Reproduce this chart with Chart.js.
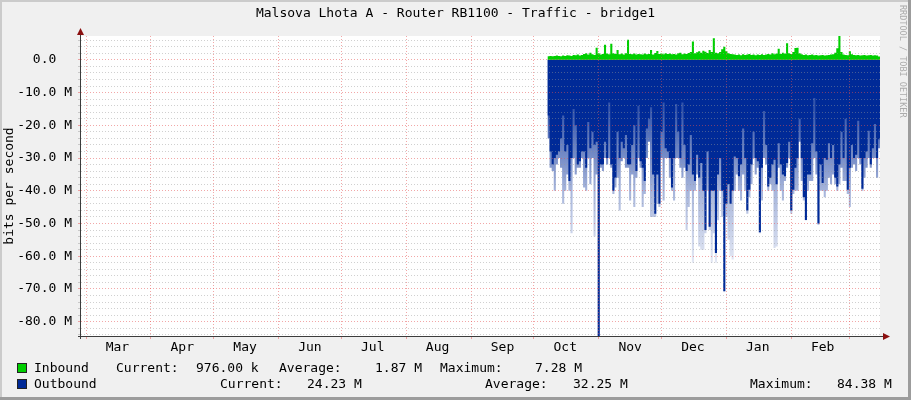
<!DOCTYPE html>
<html>
<head>
<meta charset="utf-8">
<script src="https://cdn.jsdelivr.net/npm/chart.js@4.4.1/dist/chart.umd.min.js"></script>
<style>
  html, body { margin: 0; padding: 0; background: #f0f0f0; }
  #wrap { width: 911px; height: 400px; }
</style>
</head>
<body>
<div id="wrap"><canvas id="traffic" width="911" height="400"></canvas></div>
<script>
const TITLE = 'Malsova Lhota A - Router RB1100 - Traffic - bridge1';
const Y_TITLE = 'bits per second';
const WATERMARK = 'RRDTOOL / TOBI OETIKER';

// x axis in days since 1 Mar
const MONTH_LABELS = ['Mar', 'Apr', 'May', 'Jun', 'Jul', 'Aug', 'Sep', 'Oct', 'Nov', 'Dec', 'Jan', 'Feb'];
const MONTH_STARTS = [0, 31, 61, 92, 122, 153, 184, 214, 245, 275, 306, 337, 365];
const X_MIN = -2.4;
const X_MAX = 379.4;

// y axis in M (bits per second)
const Y_MIN = -84.38;
const Y_MAX = 7.28;
const Y_MAJOR = [0, -10, -20, -30, -40, -50, -60, -70, -80];
const Y_MAJOR_LABELS = ['0.0  ', '-10.0 M', '-20.0 M', '-30.0 M', '-40.0 M', '-50.0 M', '-60.0 M', '-70.0 M', '-80.0 M'];

// one sample per day, first sample on day 220.5 (early Oct)
const DATA_START = 220.5;

const inbound = [
  1.1, 1.2, 1.1, 1.2, 1.3, 1.2, 1.1, 1.3, 1.2, 1.4,
  1.3, 1.2, 1.5, 1.4, 1.6, 1.3, 1.5, 1.8, 2.0, 1.6,
  2.2, 1.7, 1.5, 3.7, 2.0, 1.6, 1.8, 4.6, 1.9, 1.7,
  4.9, 2.0, 1.8, 3.0, 1.7, 1.9, 1.6, 2.0, 6.1, 1.8,
  1.7, 1.9, 1.6, 1.8, 1.7, 1.6, 1.9, 1.7, 1.8, 3.0,
  1.6, 2.1, 2.7, 1.8, 1.9, 1.7, 2.0, 1.8, 1.9, 1.7,
  1.8, 1.6, 2.0, 2.2, 1.7, 1.9, 1.8, 2.1, 2.4, 5.6,
  2.0, 2.3, 2.6, 2.2, 2.8, 2.5, 2.1, 3.0, 2.4, 6.6,
  2.2, 2.0, 2.4, 3.2, 4.0, 2.6, 2.0, 1.8, 1.7, 1.6,
  1.5, 1.6, 1.4, 1.7, 1.5, 1.6, 1.8, 1.5, 1.6, 1.4,
  1.6, 1.5, 1.7, 1.5, 1.6, 1.8, 1.6, 2.0, 1.7, 1.9,
  3.4, 1.8, 2.2, 1.9, 5.1, 2.0, 1.8, 2.4, 3.6, 3.7,
  2.0, 1.7, 1.5, 1.6, 1.4, 1.5, 1.6, 1.4, 1.5, 1.3,
  1.4, 1.5, 1.3, 1.4, 1.5, 1.6, 1.7, 2.2, 3.5, 7.28,
  2.4, 1.6, 1.5, 1.4, 2.6, 1.7, 1.5, 1.4, 1.5, 1.3,
  1.4, 1.5, 1.3, 1.4, 1.5, 1.3, 1.4, 1.3, 0.98
];

// outbound, typical daily level (drawn below zero)
const outboundCore = [
  17, 28, 32, 30, 29, 28, 24, 17, 28, 26,
  37, 30, 15, 20, 32, 31, 28, 28, 33, 19,
  27, 22, 26, 25, 84.38, 32, 32, 25, 30, 13,
  32, 40, 36, 22, 30, 25, 27, 23, 32, 32,
  26, 20, 34, 14, 31, 33, 37, 21, 18, 14.5,
  35, 47, 35, 44, 22, 13, 27, 28, 30, 39,
  30, 13.5, 22, 30, 13, 26, 34, 32, 23, 35,
  37, 29, 36, 31.5, 40, 52, 28, 51, 40, 40,
  59, 35, 30, 40, 70.7, 44, 38, 44, 40, 29.5,
  30, 35.6, 32, 21, 30, 46, 39.7, 32, 22, 30,
  31, 52.7, 33, 15.6, 26, 38.7, 36, 32, 30.5, 38,
  25.5, 32, 35, 35.6, 31.5, 25, 46, 39.7, 33, 30,
  18, 30, 42, 48.9, 35, 35, 25.5, 11.7, 28, 50,
  32, 37.6, 30, 30.5, 25.5, 30, 26, 36, 38.7, 32,
  22, 30, 18, 39.7, 33, 26, 30, 29, 18.6, 30,
  39.4, 30, 28, 21.7, 32, 27, 19.6, 30, 24.23
];

// outbound, short peaks within each day (light shade)
const outboundPeak = [
  24, 33, 34, 40, 32, 30, 33, 44, 40, 35,
  40, 53, 30, 35, 33, 33, 30, 39, 40, 30,
  38, 30, 54, 35, 84.38, 33, 34, 30, 32, 30,
  33, 41, 39, 36, 46, 31, 30, 33, 33, 43,
  35, 45, 36, 30, 33, 45, 41, 30, 25, 48,
  48, 48, 44, 45, 30, 43, 30, 30, 36, 40,
  43, 30, 30, 33, 36, 33, 52, 45, 40, 62,
  40, 35, 57, 58, 58, 53, 40, 52, 62, 53,
  62, 49, 40, 48, 71, 48, 55, 60, 61, 40,
  35, 40, 43, 35, 40, 47, 42, 38, 30, 35,
  33, 53, 43, 30, 32, 40, 38, 40, 57.5, 57,
  33, 40, 43, 37, 33, 30, 47, 41, 40, 40,
  25, 37, 43, 49, 40, 37, 37, 30, 35, 50.5,
  40, 40, 42, 40, 36, 38, 35, 38, 40, 38,
  33, 37, 37, 41, 45, 33, 32, 34, 30, 32,
  40, 36, 33, 30, 33, 30, 30, 36, 27
];

const LEGEND_IN = ['Inbound', 'Current:', '976.00 k', 'Average:', '1.87 M', 'Maximum:', '7.28 M'];
const LEGEND_OUT = ['Outbound', 'Current:', '24.23 M', 'Average:', '32.25 M', 'Maximum:', '84.38 M'];

const GREEN = '#00CF00';
const BLUE = '#002A97';
const FONT = "'DejaVu Sans Mono', monospace";
const MGRID = 'rgba(230, 80, 80, 0.5)';
const GRID = 'rgba(150, 150, 150, 0.45)';

// layout of the legend columns (pixels)
const LEGEND_IN_X = [34, 116, 196, 279, 375, 440, 535];
const LEGEND_OUT_X = [34, 220, 307, 485, 573, 750, 837];

function toPoints(values, sign) {
  const pts = values.map((v, i) => ({ x: DATA_START + i, y: sign * v }));
  // close the last step so the final sample gets its width
  pts.push({ x: DATA_START + values.length, y: sign * values[values.length - 1] });
  return pts;
}

// fading shade for the short outbound peaks
function peakFill(context) {
  const chart = context.chart;
  if (!chart.chartArea) return 'rgba(0, 42, 151, 0.35)';
  const y = chart.scales.y;
  const g = chart.ctx.createLinearGradient(0, y.getPixelForValue(-15), 0, y.getPixelForValue(-65));
  g.addColorStop(0, 'rgba(0, 42, 151, 0.8)');
  g.addColorStop(0.5, 'rgba(0, 42, 151, 0.35)');
  g.addColorStop(1, 'rgba(0, 42, 151, 0.08)');
  return g;
}

const rrdFrame = {
  id: 'rrdFrame',
  beforeDraw(chart) {
    const { ctx, chartArea: a, width, height } = chart;
    ctx.save();
    ctx.fillStyle = '#f0f0f0';
    ctx.fillRect(0, 0, width, height);
    ctx.fillStyle = '#ffffff';
    ctx.fillRect(a.left, a.top, a.right - a.left, a.bottom - a.top);
    ctx.restore();
  },
  afterDraw(chart) {
    const { ctx, chartArea: a, width, height } = chart;
    ctx.save();

    // axes
    ctx.strokeStyle = '#3c3c3c';
    ctx.lineWidth = 1;
    ctx.beginPath();
    ctx.moveTo(a.left - 0.5, a.top - 3);
    ctx.lineTo(a.left - 0.5, a.bottom + 3);
    ctx.moveTo(a.left - 3, a.bottom + 0.5);
    ctx.lineTo(a.right + 4, a.bottom + 0.5);
    ctx.stroke();

    // arrows
    ctx.fillStyle = '#8b1010';
    ctx.beginPath();
    ctx.moveTo(a.left - 0.5, a.top - 8);
    ctx.lineTo(a.left - 4, a.top - 1);
    ctx.lineTo(a.left + 3, a.top - 1);
    ctx.closePath();
    ctx.fill();
    ctx.beginPath();
    ctx.moveTo(a.right + 10, a.bottom + 0.5);
    ctx.lineTo(a.right + 3, a.bottom - 3);
    ctx.lineTo(a.right + 3, a.bottom + 4);
    ctx.closePath();
    ctx.fill();

    // title
    ctx.fillStyle = '#000';
    ctx.font = '13px ' + FONT;
    ctx.textAlign = 'center';
    ctx.textBaseline = 'middle';
    ctx.fillText(TITLE, width / 2, 14);

    // y axis title
    ctx.save();
    ctx.translate(10, (a.top + a.bottom) / 2);
    ctx.rotate(-Math.PI / 2);
    ctx.fillText(Y_TITLE, 0, 0);
    ctx.restore();

    // legend
    ctx.textAlign = 'left';
    const rows = [
      { color: GREEN, texts: LEGEND_IN, xs: LEGEND_IN_X, y: 369 },
      { color: BLUE, texts: LEGEND_OUT, xs: LEGEND_OUT_X, y: 385 }
    ];
    rows.forEach(r => {
      ctx.fillStyle = r.color;
      ctx.fillRect(17, r.y - 6, 10, 10);
      ctx.strokeStyle = '#222';
      ctx.strokeRect(17.5, r.y - 5.5, 9, 9);
      ctx.fillStyle = '#000';
      r.texts.forEach((t, i) => ctx.fillText(t, r.xs[i], r.y));
    });

    // watermark
    ctx.save();
    ctx.translate(902, 5);
    ctx.rotate(Math.PI / 2);
    ctx.fillStyle = '#ababab';
    ctx.font = '8.5px ' + FONT;
    ctx.textBaseline = 'middle';
    ctx.fillText(WATERMARK, 0, 0);
    ctx.restore();

    // 3d frame
    ctx.fillStyle = '#cbcbcb';
    ctx.fillRect(0, 0, width, 2);
    ctx.fillRect(0, 0, 2, height);
    ctx.fillStyle = '#9c9c9c';
    ctx.fillRect(width - 3, 0, 3, height);
    ctx.fillRect(0, height - 3, width, 3);

    ctx.restore();
  }
};

Chart.defaults.font.family = FONT;
Chart.defaults.font.size = 13;
Chart.defaults.color = '#000';

new Chart(document.getElementById('traffic'), {
  type: 'line',
  data: {
    datasets: [
      {
        label: 'Inbound',
        data: toPoints(inbound, 1),
        backgroundColor: GREEN,
        borderWidth: 0,
        fill: 'origin',
        stepped: true,
        pointRadius: 0,
        order: 1
      },
      {
        label: 'Outbound',
        data: toPoints(outboundCore, -1),
        backgroundColor: BLUE,
        borderWidth: 0,
        fill: 'origin',
        stepped: true,
        pointRadius: 0,
        order: 2
      },
      {
        label: 'Outbound peak',
        data: toPoints(outboundPeak, -1),
        backgroundColor: peakFill,
        borderWidth: 0,
        fill: 'origin',
        stepped: true,
        pointRadius: 0,
        order: 3
      }
    ]
  },
  options: {
    responsive: false,
    animation: false,
    devicePixelRatio: 1,
    layout: { padding: { top: 36, right: 31, bottom: 34, left: 0 } },
    plugins: {
      legend: { display: false },
      tooltip: { enabled: false },
      title: { display: false }
    },
    scales: {
      x: {
        type: 'linear',
        min: X_MIN,
        max: X_MAX,
        afterBuildTicks: (scale) => { scale.ticks = MONTH_STARTS.map(v => ({ value: v })); },
        afterFit: (scale) => { scale.height = 0; },
        ticks: { display: false },
        grid: { z: 1, color: MGRID, tickLength: 3, drawTicks: true },
        border: { display: false, dash: [1, 2] }
      },
      xl: {
        type: 'linear',
        position: 'bottom',
        min: X_MIN,
        max: X_MAX,
        afterBuildTicks: (scale) => { scale.ticks = MONTH_STARTS.slice(0, 12).map(v => ({ value: v + 15 })); },
        afterFit: (scale) => { scale.height = 30; },
        ticks: {
          autoSkip: false,
          maxRotation: 0,
          padding: -4,
          callback: (v, i) => MONTH_LABELS[i]
        },
        grid: { display: false },
        border: { display: false }
      },
      y: {
        type: 'linear',
        min: Y_MIN,
        max: Y_MAX,
        afterBuildTicks: (scale) => {
          const t = [];
          for (let v = -84; v <= 6; v += 2) t.push({ value: v });
          scale.ticks = t;
        },
        afterFit: (scale) => { scale.width = 81; },
        ticks: {
          autoSkip: false,
          padding: 6,
          callback: (v) => {
            const k = Y_MAJOR.indexOf(v);
            return k >= 0 ? Y_MAJOR_LABELS[k] : '';
          }
        },
        grid: {
          z: 1,
          tickLength: 3,
          color: (c) => (c.tick && c.tick.value % 10 === 0) ? MGRID : GRID
        },
        border: { display: false, dash: [1, 2] }
      }
    }
  },
  plugins: [rrdFrame]
});
</script>
</body>
</html>
